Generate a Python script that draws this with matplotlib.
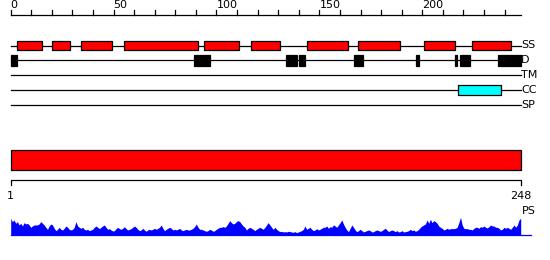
import numpy as np
import matplotlib
matplotlib.use('Agg')
import matplotlib.pyplot as plt
import matplotlib.patches as patches

# protein length and ruler
seq_len = 248
ruler_minor = np.arange(0, 241, 10)
ruler_major = [0, 50, 100, 150, 200]

# feature tracks (start, end in residues)
ss_segments = [(3, 15), (20, 29), (34, 49), (55, 91), (94, 111),
               (117, 131), (144, 164), (169, 189), (201, 216), (224, 243)]
d_segments = [(0, 3), (89, 97), (134, 139), (140, 143), (167, 171),
              (197.2, 198.4), (215.9, 217.0), (218.4, 223.3), (237, 248)]
tm_segments = []
cc_segments = [(217.5, 238.3)]
sp_segments = []
track_names = ['SS', 'D', 'TM', 'CC', 'SP']

# PS profile (arbitrary score, read along the sequence)
ps_score = [51, 41, 46, 36, 41, 31, 36, 28, 38, 34, 36, 31, 24, 28, 31, 31, 31, 34, 41, 36,
            31, 24, 18, 28, 34, 31, 21, 14, 18, 24, 18, 16, 21, 28, 24, 18, 16, 18, 24, 41,
            28, 24, 21, 24, 18, 16, 18, 14, 16, 18, 24, 28, 24, 20, 24, 28, 31, 24, 18, 20,
            16, 13, 14, 20, 24, 20, 18, 21, 26, 20, 16, 18, 20, 24, 28, 24, 18, 14, 16, 21,
            16, 12, 16, 18, 16, 18, 21, 18, 21, 24, 31, 21, 14, 18, 21, 24, 21, 16, 18, 16,
            18, 21, 16, 14, 16, 18, 16, 16, 18, 21, 26, 34, 24, 18, 18, 16, 14, 12, 14, 18,
            16, 12, 14, 18, 21, 24, 24, 26, 24, 28, 36, 44, 38, 34, 36, 41, 44, 41, 34, 28,
            24, 16, 21, 24, 21, 18, 14, 18, 21, 24, 21, 18, 24, 31, 38, 31, 24, 18, 24,
            18, 14, 11, 12, 10, 11, 10, 12, 11, 10, 9, 11, 8, 10, 12, 14, 18, 28, 18, 21,
            24, 18, 14, 16, 20, 16, 18, 21, 24, 24, 28, 21, 26, 24, 31, 28, 24, 31, 38, 46,
            34, 24, 16, 11, 21, 31, 24, 16, 11, 14, 18, 14, 10, 12, 14, 16, 14, 10, 11, 14,
            16, 14, 12, 14, 18, 21, 16, 11, 14, 16, 14, 11, 14, 10, 11, 14, 10, 11, 12, 14,
            18, 14, 16, 12, 14, 18, 24, 28, 31, 34, 46, 36, 48, 38, 44, 41, 36, 28, 24, 21,
            16, 18, 21, 18, 20, 20, 20, 21, 24, 38, 54, 31, 21, 20, 20, 18, 18, 16, 21, 24,
            24, 21, 26, 24, 28, 24, 22, 26, 31, 28, 28, 24, 24, 21, 16, 18, 24, 21, 24, 21,
            18, 24, 31, 24, 31, 46, 51]

W, H = 550, 260
fig = plt.figure(figsize=(W / 100., H / 100.), dpi=100)

# top axes: residue 0 at px 10.7, residue 248 at px 521
x0, x1 = 10.7, 521.0
sc = (x1 - x0) / seq_len
ax = fig.add_axes([0, 0, 1, 1])
ax.set_xlim(-x0 / sc, (W - x0) / sc)
ax.set_ylim(H, 0)
ax.axis('off')

lw = 0.9
fs = 8

# ruler
ax.plot([0, seq_len], [15, 15], color='k', lw=lw)
for t in ruler_minor:
    ax.plot([t, t], [10, 15], color='k', lw=lw)
for t in ruler_major:
    ax.text(t, 9.8, str(t), ha='left', va='bottom', fontsize=fs)

track_y = [45.5, 60.3, 75.3, 90.3, 105.3]
track_h = [9.7, 10.7, 10, 10, 10]
track_fc = ['red', 'black', 'red', 'cyan', 'red']
tracks = [ss_segments, d_segments, tm_segments, cc_segments, sp_segments]

for name, segs, y, h, fc in zip(track_names, tracks, track_y, track_h, track_fc):
    ax.plot([0, seq_len], [y, y], color='k', lw=lw, zorder=1)
    for s, e in segs:
        rect = patches.Rectangle((s, y - h / 2.), e - s, h, linewidth=lw,
                                 edgecolor='k', facecolor=fc, zorder=2)
        ax.add_patch(rect)
    ax.text(seq_len, y, name, ha='left', va='center', fontsize=fs)

# bottom axes: residue 1 at px 10.7, residue 248 at px 520.7
b0, b1 = 10.7, 520.7
sc2 = (b1 - b0) / (seq_len - 1)
ax2 = fig.add_axes([0, 0, 1, 1])
ax2.set_xlim(1 - b0 / sc2, 1 + (W - b0) / sc2)
ax2.set_ylim(H, 0)
ax2.axis('off')

ax2.add_patch(patches.Rectangle((1, 150.3), seq_len - 1, 20, linewidth=lw,
                                edgecolor='k', facecolor='red'))
ax2.plot([1, 1, seq_len, seq_len], [185, 180.3, 180.3, 185], color='k', lw=lw)
ax2.text(1, 196, '1', ha='center', va='center', fontsize=fs)
ax2.text(seq_len, 196, '248', ha='center', va='center', fontsize=fs)
ax2.text(seq_len + 0.5, 211, 'PS', ha='left', va='center', fontsize=fs)

base = 235.3
ps = np.array(ps_score) / 3.
xs = np.linspace(1, seq_len, len(ps))
ax2.fill_between(xs, base, base - ps, color='blue', lw=0)
ax2.plot([1, 253], [base, base], color='blue', lw=lw)

plt.savefig('out.png', dpi=100)
plt.close('all')
